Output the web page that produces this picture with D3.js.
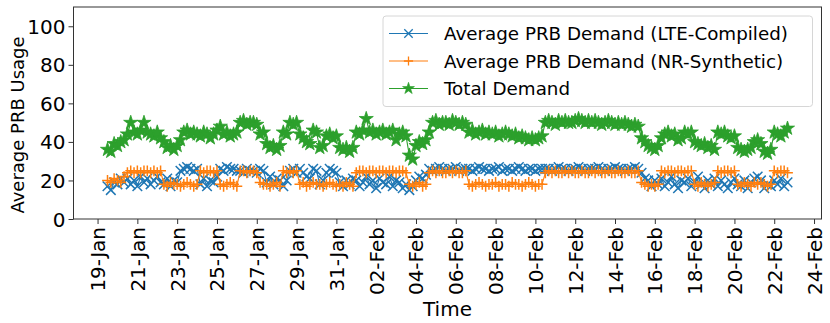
<!DOCTYPE html>
<html>
<head>
<meta charset="utf-8">
<script src="https://cdn.jsdelivr.net/npm/d3@7"></script>
<style>
  html, body { margin: 0; padding: 0; background: #fff; }
  svg { display: block; font-family: "DejaVu Sans", sans-serif; }
</style>
</head>
<body>
<svg id="chart" width="830" height="323"></svg>
<script>
// ---------------- DATA ----------------
const seriesNames = ["Average PRB Demand (LTE-Compiled)", "Average PRB Demand (NR-Synthetic)", "Total Demand"];
const startTime = "2023-01-19T12:00:00Z";
const stepHours = 4;

const lteValues = [
  17, 15, 19, 18, 21, 19,
  21, 18, 20, 17, 22, 19, 21, 18, 20, 22, 19,
  18, 21, 17, 20, 19,
  25, 26, 27, 26, 25, 26,
  18, 21, 17, 20, 19, 22,
  26, 25, 27, 26, 26, 25,
  25, 24, 26, 25, 25, 24,
  26, 25,
  19, 22, 18, 21, 20,
  17, 20,
  25, 26, 24,
  26, 24, 22, 21,
  26, 25,
  18, 20,
  24, 26, 25, 24,
  19, 17, 20, 18, 21,
  20, 17, 19, 22, 18, 20, 16, 21, 19, 18, 22, 17, 20, 19, 16, 18,
  15, 17,
  20, 22, 21, 23,
  26, 25, 26, 27, 26, 25, 26, 26, 27, 25, 26, 26,
  26, 25, 26, 27, 26, 26, 25, 26, 26, 27, 25, 26, 26, 25, 26, 27, 26, 25, 26, 26, 25, 26, 26,
  26, 26, 25, 26, 27, 26, 26, 25, 26, 26, 27, 26, 25, 26, 26, 26, 27, 26, 25, 26, 26, 27, 26, 26, 25, 26, 26, 27, 26,
  24, 21, 20,
  17, 20, 18,
  21, 17, 19, 22, 18, 16, 20, 19, 21, 17,
  19, 22, 18, 16, 20, 18, 21,
  17, 20, 18, 16, 19, 21,
  18, 17, 20, 16, 19,
  21, 22, 20,
  16, 18, 17,
  20, 18, 21, 17, 19
];

const nrValues = [
  20, 19, 21, 20, 19, 22,
  24, 25, 24, 25, 24, 25, 25, 24, 25, 24, 25,
  18, 17, 19, 18, 18,
  17, 18, 19, 18, 17, 18,
  25, 24, 25, 25, 24, 25,
  18, 17, 18, 19, 18, 17,
  25, 25, 24, 25, 25, 24,
  19, 18,
  18, 17, 18, 19, 17,
  25, 24,
  25, 24, 25,
  18, 19, 17, 18,
  19, 18,
  18, 17,
  18, 19, 18, 17,
  18, 17, 19, 18, 17,
  24, 25, 25, 24, 25, 25, 24, 25, 25, 24, 25, 25, 24, 25, 25, 24,
  18, 17,
  18, 19, 17, 18,
  24, 25, 24, 25, 24, 24, 25, 24, 25, 24, 24, 25,
  18, 17, 18, 19, 18, 17, 18, 18, 19, 17, 18, 18, 17, 19, 18, 18, 17, 18, 19, 18, 17, 18, 18,
  24, 25, 24, 25, 24, 24, 25, 24, 25, 24, 24, 25, 24, 24, 25, 24, 25, 24, 24, 25, 24, 24, 25, 24, 24, 25, 24, 24, 25,
  19, 18, 17,
  18, 17, 18,
  25, 24, 25, 25, 24, 25, 25, 24, 25, 25,
  18, 17, 19, 18, 17, 18, 19,
  25, 24, 25, 25, 24, 25,
  18, 17, 19, 18, 17,
  19, 18, 19,
  18, 17, 18,
  25, 24, 25, 25, 24
];

const totalValues = [
  36, 35, 39, 38, 40, 41,
  44, 50, 45, 44, 46, 50, 45, 44, 43, 45, 42,
  40, 37, 38, 36, 38,
  41, 45, 46, 44, 45, 44,
  43, 45, 44, 42, 44, 46,
  48, 44, 45, 43, 44, 45,
  50, 51, 49, 50, 50, 49,
  44, 45,
  39, 37, 38, 36, 38,
  45, 44,
  50, 49, 50,
  44, 42, 40, 39,
  46, 45,
  37, 38,
  43, 44, 42, 43,
  37, 36, 37, 35, 37,
  45, 44, 46, 52, 45, 46, 44, 45, 46, 44, 45, 46, 41, 44, 45, 43,
  33, 31,
  38, 40, 39, 41,
  45, 50, 51, 49, 50, 50, 49, 51, 50, 49, 50, 49,
  45, 46, 44, 45, 46, 44, 45, 44, 45, 43, 44, 45, 44, 43, 44, 42, 43, 42, 41, 42, 41, 42, 43,
  50, 51, 50, 49, 51, 50, 51, 50, 50, 51, 52, 51, 50, 51, 50, 51, 50, 49, 50, 51, 50, 49, 50, 49, 50, 49, 48, 49, 48,
  42, 40, 38,
  37, 36, 38,
  42, 44, 45, 43, 44, 41, 42, 45, 44, 45,
  40, 39, 38, 39, 37, 38, 36,
  45, 44, 45, 43, 42, 43,
  37, 36, 35, 36, 37,
  40, 41, 39,
  35, 34, 36,
  45, 44, 43, 45, 47
];

const tickDates = [
  "2023-01-19", "2023-01-21", "2023-01-23", "2023-01-25", "2023-01-27", "2023-01-29", "2023-01-31",
  "2023-02-02", "2023-02-04", "2023-02-06", "2023-02-08", "2023-02-10", "2023-02-12", "2023-02-14",
  "2023-02-16", "2023-02-18", "2023-02-20", "2023-02-22", "2023-02-24"
];
const yTicks = [0, 20, 40, 60, 80, 100];

// ---------------- CHART ----------------
const colors = ["#1f77b4", "#ff7f0e", "#2ca02c"];
const W = 830, H = 323;
const plot = { left: 73.5, right: 821.5, top: 7, bottom: 219 };

const t0 = new Date(startTime).getTime();
const times = lteValues.map((_, i) => new Date(t0 + i * stepHours * 3600e3));
const series = [lteValues, nrValues, totalValues].map(vals =>
  vals.map((v, i) => ({ t: times[i], v })));

const ext = d3.extent(times);
const pad = (ext[1] - ext[0]) * 0.05;
const x = d3.scaleUtc()
  .domain([new Date(+ext[0] - pad), new Date(+ext[1] + pad)])
  .range([plot.left, plot.right]);
const y = d3.scaleLinear().domain([0, 110]).range([plot.bottom, plot.top]);

const svg = d3.select("#chart");
svg.append("rect").attr("width", W).attr("height", H).attr("fill", "#fff");

// marker shapes
const markerPath = [
  r => `M${-r},${-r}L${r},${r}M${-r},${r}L${r},${-r}`,
  r => `M${-r},0L${r},0M0,${-r}L0,${r}`,
  null
];
const markerR = [4.8, 5.4];
const star = d3.symbol().type(d3.symbolStar).size(62);

const g = svg.append("g");
const line = d3.line().x(d => x(d.t)).y(d => y(d.v));

series.forEach((data, k) => {
  const sg = g.append("g");
  sg.append("path").attr("d", line(data))
    .attr("fill", "none").attr("stroke", colors[k]).attr("stroke-width", 1.1);
  if (k < 2) {
    sg.selectAll("path.m").data(data).join("path").attr("class", "m")
      .attr("transform", d => `translate(${x(d.t)},${y(d.v)})`)
      .attr("d", markerPath[k](markerR[k]))
      .attr("stroke", colors[k]).attr("stroke-width", 1.5).attr("fill", "none");
  } else {
    sg.selectAll("path.m").data(data).join("path").attr("class", "m")
      .attr("transform", d => `translate(${x(d.t)},${y(d.v)})`)
      .attr("d", star).attr("fill", colors[k]).attr("stroke", colors[k]).attr("stroke-width", 0.8);
  }
});

// axes
const axisColor = "#333";
const xAxis = svg.append("g").attr("transform", `translate(0,${plot.bottom})`)
  .call(d3.axisBottom(x).tickValues(tickDates.map(s => new Date(s + "T00:00:00Z")))
    .tickFormat(d3.utcFormat("%d-%b")).tickSize(5).tickSizeOuter(0));
xAxis.select(".domain").remove();
xAxis.selectAll(".tick line").attr("stroke", axisColor);
xAxis.selectAll(".tick text")
  .attr("font-size", 20).attr("font-family", "DejaVu Sans").attr("fill", "#000")
  .attr("text-anchor", "end")
  .attr("transform", "rotate(-90)")
  .attr("x", -8).attr("y", 0).attr("dy", "0.35em");

const yAxis = svg.append("g").attr("transform", `translate(${plot.left},0)`)
  .call(d3.axisLeft(y).tickValues(yTicks).tickSize(5).tickSizeOuter(0));
yAxis.select(".domain").remove();
yAxis.selectAll(".tick line").attr("stroke", axisColor);
yAxis.selectAll(".tick text")
  .attr("font-size", 20).attr("font-family", "DejaVu Sans").attr("fill", "#000")
  .attr("x", -8).attr("dy", "0.35em");

// frame
svg.append("rect")
  .attr("x", plot.left).attr("y", plot.top)
  .attr("width", plot.right - plot.left).attr("height", plot.bottom - plot.top)
  .attr("fill", "none").attr("stroke", axisColor).attr("stroke-width", 1);

// axis labels
svg.append("text").attr("x", (plot.left + plot.right) / 2).attr("y", 316)
  .attr("text-anchor", "middle").attr("font-size", 20).text("Time");
svg.append("text").attr("transform", `translate(18,${(plot.top + plot.bottom) / 2 + 12}) rotate(-90)`)
  .attr("text-anchor", "middle").attr("dy", "0.35em").attr("font-size", 18).text("Average PRB Usage");

// legend
const lg = svg.append("g");
lg.append("rect").attr("x", 383).attr("y", 16).attr("width", 429.5).attr("height", 90.5)
  .attr("rx", 3).attr("fill", "#fff").attr("fill-opacity", 0.8)
  .attr("stroke", "#d6d6d6").attr("stroke-width", 1);
const rowY = [33.5, 61, 88.5];
seriesNames.forEach((name, k) => {
  const ry = rowY[k];
  lg.append("line").attr("x1", 389).attr("x2", 428).attr("y1", ry).attr("y2", ry)
    .attr("stroke", colors[k]).attr("stroke-width", 1.1);
  if (k < 2) {
    lg.append("path").attr("transform", `translate(408.5,${ry})`)
      .attr("d", markerPath[k](k === 0 ? 4.2 : 4.6))
      .attr("stroke", colors[k]).attr("stroke-width", 1.3).attr("fill", "none");
  } else {
    lg.append("path").attr("transform", `translate(408.5,${ry})`)
      .attr("d", d3.symbol().type(d3.symbolStar).size(44)).attr("fill", colors[k]).attr("stroke", colors[k]).attr("stroke-width", 0.6);
  }
  lg.append("text").attr("x", 444).attr("y", ry).attr("dy", "0.36em")
    .attr("font-size", 18.3).attr("fill", "#000").text(name);
});
</script>
</body>
</html>
